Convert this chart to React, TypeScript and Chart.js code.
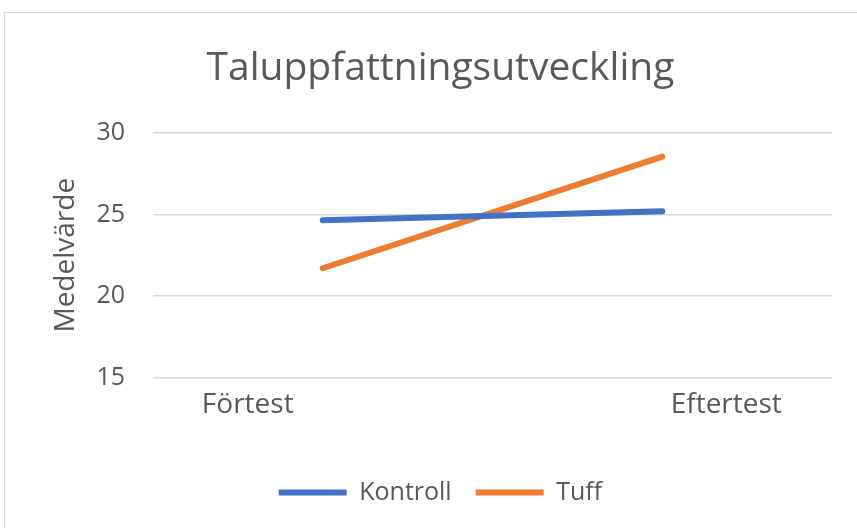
import { useEffect, useRef } from "react";
import { Chart, registerables } from "chart.js";

Chart.register(...registerables);

const categories = ["Förtest", "Eftertest"];
const seriesNames = ["Kontroll", "Tuff"];
const kontrollValues = [24.65, 25.2];
const tuffValues = [21.7, 28.55];
const yMin = 15;
const yMax = 30;
const yStep = 5;
const chartTitle = "Taluppfattningsutveckling";
const yAxisTitle = "Medelvärde";

const TEXT = "#595959";
const GRID = "#d9d9d9";
const BLUE = "#4472C4";
const ORANGE = "#ED7D31";
const FONT = '"Open Sans", "DejaVu Sans", sans-serif';
const X_LABEL_SIZE = 28;
const X_LABEL_SHIFT = [-75, 64];
const X_LABEL_BASELINE = 36;

const shiftedXLabels = {
  id: "shiftedXLabels",
  afterDraw(chart: any) {
    const xs = chart.scales.x;
    const ctx = chart.ctx;
    ctx.save();
    ctx.font = `${X_LABEL_SIZE}px ${FONT}`;
    ctx.fillStyle = TEXT;
    ctx.textAlign = "center";
    ctx.textBaseline = "alphabetic";
    categories.forEach((c, i) => {
      ctx.fillText(c, xs.getPixelForValue(i) + X_LABEL_SHIFT[i], xs.top + X_LABEL_BASELINE);
    });
    ctx.restore();
  },
};

export default function App() {
  const ref = useRef<HTMLCanvasElement | null>(null);
  useEffect(() => {
    if (!ref.current) return;
    Chart.defaults.font.family = FONT;
    const chart = new Chart(ref.current, {
      type: "line",
      data: {
        labels: categories,
        datasets: [
          {
            label: seriesNames[0],
            data: kontrollValues,
            borderColor: BLUE,
            backgroundColor: BLUE,
            borderWidth: 6,
            borderCapStyle: "round",
            pointRadius: 0,
            pointHoverRadius: 0,
          },
          {
            label: seriesNames[1],
            data: tuffValues,
            borderColor: ORANGE,
            backgroundColor: ORANGE,
            borderWidth: 6,
            borderCapStyle: "round",
            pointRadius: 0,
            pointHoverRadius: 0,
          },
        ],
      },
      options: {
        animation: false,
        responsive: false,
        maintainAspectRatio: false,
        layout: { padding: { left: 48.8, right: 25, top: 18, bottom: 13 } },
        plugins: {
          title: {
            display: true,
            text: chartTitle,
            color: TEXT,
            font: { size: 39, weight: "normal" },
            padding: { top: 27.6, bottom: 40.6 },
          },
          legend: {
            position: "bottom",
            labels: {
              usePointStyle: true,
              pointStyle: "line",
              pointStyleWidth: 68,
              color: TEXT,
              font: { size: 25 },
              padding: 24,
            },
          },
          tooltip: { enabled: false },
        },
        scales: {
          x: {
            type: "category",
            offset: true,
            grid: { display: false, drawTicks: false },
            border: { display: false },
            ticks: { color: "rgba(0,0,0,0)", font: { size: 27 }, padding: 23.1 },
          },
          y: {
            min: yMin,
            max: yMax,
            grid: { color: GRID, lineWidth: 1.5, drawTicks: false },
            border: { display: false },
            ticks: { stepSize: yStep, color: TEXT, font: { size: 25 }, padding: 28 },
            title: {
              display: true,
              text: yAxisTitle,
              color: TEXT,
              font: { size: 28 },
              padding: { top: 0, bottom: -14 },
            },
          },
        },
      },
      plugins: [shiftedXLabels],
    });
    return () => chart.destroy();
  }, []);

  return (
    <div
      style={{
        position: "fixed",
        left: 0,
        top: 0,
        width: 857,
        height: 528,
        overflow: "hidden",
        background: "#fff",
      }}
    >
      <div
        style={{
          position: "absolute",
          left: 4,
          top: 12,
          width: 900,
          height: 600,
          border: `1px solid ${GRID}`,
        }}
      />
      <canvas
        ref={ref}
        width={857}
        height={528}
        style={{ position: "absolute", left: 0, top: 0, width: 857, height: 528 }}
      />
    </div>
  );
}
